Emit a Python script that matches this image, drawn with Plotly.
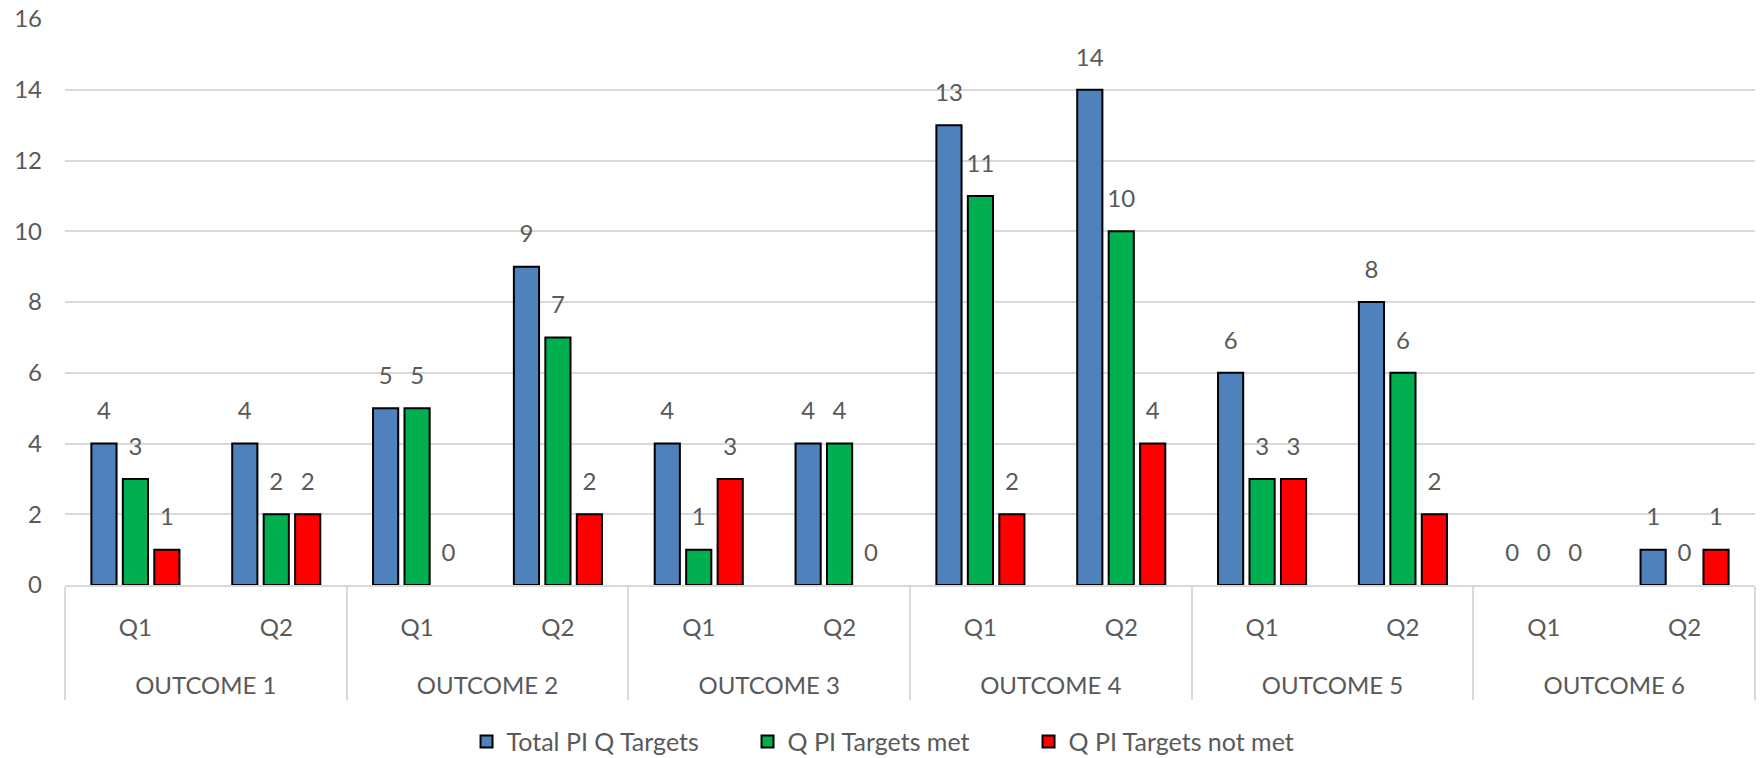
import plotly.graph_objects as go

outcomes = ["OUTCOME 1", "OUTCOME 2", "OUTCOME 3", "OUTCOME 4", "OUTCOME 5", "OUTCOME 6"]
quarters = ["Q1", "Q2"]
series_names = ["Total PI Q Targets", "Q PI Targets met", "Q PI Targets not met"]
total_targets = [4, 4, 5, 9, 4, 4, 13, 14, 6, 8, 0, 1]
targets_met = [3, 2, 5, 7, 1, 4, 11, 10, 3, 6, 0, 0]
targets_not_met = [1, 2, 0, 2, 3, 0, 2, 4, 3, 2, 0, 1]
colors = ["#4F81BD", "#00B050", "#FF0000"]
y_ticks = [0, 2, 4, 6, 8, 10, 12, 14, 16]

LBL = "<span style='font-size:24px'>{}</span>"
x_level1 = [LBL.format(o) for o in outcomes for _ in quarters]
# second-level labels carry a blank line so the outer labels sit lower
x_level2 = [LBL.format(q) + "<br>&nbsp;" for _ in outcomes for q in quarters]

FONT = "Lato"
GRAY = "#595959"

fig = go.Figure()
for name, vals, col in zip(series_names, [total_targets, targets_met, targets_not_met], colors):
    fig.add_trace(go.Bar(
        x=[x_level1, x_level2], y=vals, name=name,
        marker=dict(color=col, line=dict(color="black",
                                         width=[2 if v > 0 else 0 for v in vals])),
        texttemplate="<span style='font-size:24px'>%{y}</span><br>&nbsp;",
        textposition="outside", constraintext="none", cliponaxis=False,
        textfont=dict(family=FONT, size=14, color=GRAY),
    ))

fig.update_layout(
    width=1762, height=758,
    margin=dict(l=65, r=7, t=19, b=173, autoexpand=False),
    paper_bgcolor="white", plot_bgcolor="white",
    barmode="group", bargap=0.33, bargroupgap=0.2,
    font=dict(family=FONT, size=24, color=GRAY),
    showlegend=True,
    legend=dict(orientation="h", x=0.487, xanchor="center",
                y=-0.277, yanchor="middle", font=dict(size=25, color=GRAY),
                traceorder="normal", entrywidth=236),
)
fig.update_xaxes(
    type="multicategory", showline=True, linecolor="#D9D9D9", linewidth=2,
    showdividers=True, dividercolor="#D9D9D9", dividerwidth=2,
    tickfont=dict(family=FONT, size=30, color=GRAY), ticks="", tickangle=0,
    ticklabelstandoff=13, showgrid=False,
)
fig.update_yaxes(
    range=[0, 16], tickvals=y_ticks, showgrid=True, gridcolor="#D9D9D9", gridwidth=2,
    zeroline=False, showline=False, ticklabelstandoff=22,
    tickfont=dict(family=FONT, size=24, color=GRAY),
)
fig.write_html("out.html")
